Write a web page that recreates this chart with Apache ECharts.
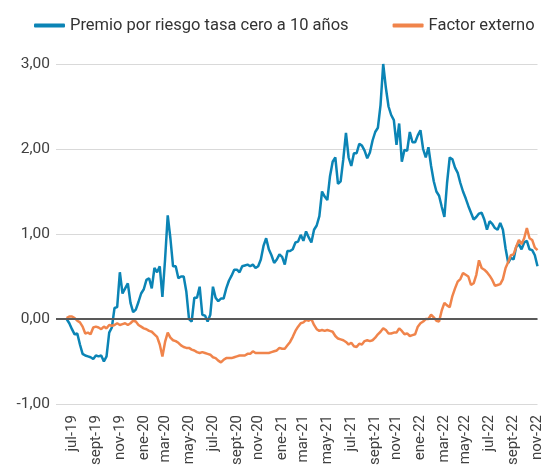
<!DOCTYPE html>
<html>
<head>
<meta charset="utf-8">
<title>Premio por riesgo</title>
<script src="https://cdn.jsdelivr.net/npm/echarts@6.0.0/dist/echarts.min.js"></script>
<style>
  html, body { margin: 0; padding: 0; background: #fff; }
  #chart { width: 545px; height: 475px; }
</style>
</head>
<body>
<div id="chart"></div>
<script>
// weekly observations (fridays), first one 2019-06-14
var firstWeek = "2019-06-14";
var padWeeks = 4; // empty weeks before the first observation

var premio = [
  0.00, -0.05, -0.12, -0.18, -0.17, -0.30, -0.41, -0.43, -0.44, -0.45,
  -0.47, -0.43, -0.44, -0.43, -0.50, -0.44, -0.16, -0.10, 0.13,
  0.14, 0.55, 0.30, 0.36, 0.42, 0.19, 0.08, 0.11, 0.20,
  0.30, 0.35, 0.46, 0.48, 0.36, 0.60, 0.55, 0.62, 0.26, 0.70,
  1.22, 0.95, 0.62, 0.62, 0.48, 0.50, 0.50, 0.32,
  0.00, -0.03, 0.25, 0.25, 0.38, 0.05, 0.04, -0.03, 0.05, 0.38, 0.25,
  0.21, 0.24, 0.24, 0.36, 0.45, 0.51, 0.58,
  0.58, 0.55, 0.62, 0.63, 0.64, 0.62, 0.64, 0.60, 0.62, 0.70, 0.86, 0.95,
  0.82, 0.75, 0.66, 0.70, 0.76, 0.73, 0.64,
  0.80, 0.80, 0.82, 0.90, 0.91, 0.99, 0.92, 1.03, 0.96, 0.90, 1.05, 1.10,
  1.21, 1.50, 1.44, 1.40, 1.68, 1.85,
  1.90, 1.59, 1.62, 1.88, 2.19, 1.90, 1.80, 1.95, 1.95, 2.06, 2.04, 1.98, 1.89,
  1.96, 2.10, 2.20, 2.25, 2.52,
  3.00, 2.72, 2.50, 2.40, 2.34, 2.05, 2.30, 1.85, 1.99, 1.98, 2.20, 2.08, 2.08, 2.16,
  2.22, 2.00, 1.90, 2.02, 1.80,
  1.62, 1.50, 1.45, 1.32, 1.20, 1.60, 1.90, 1.88, 1.78, 1.72, 1.60, 1.50, 1.42, 1.33,
  1.25, 1.17, 1.20, 1.24,
  1.25, 1.17, 1.05, 1.15, 1.12, 1.07, 1.05, 1.13, 1.05, 0.83, 0.66, 0.72, 0.70, 0.85, 0.88,
  0.82, 0.90, 0.92,
  0.82, 0.81, 0.75, 0.62
];

var factorExterno = [
  0.01, 0.03, 0.03, 0.01, -0.02, -0.04, -0.09, -0.17, -0.16, -0.18,
  -0.10, -0.09, -0.10, -0.12, -0.09, -0.11, -0.07, -0.08, -0.07,
  -0.05, -0.07, -0.06, -0.05, -0.07, -0.05, -0.02, -0.03, -0.07,
  -0.09, -0.11, -0.12, -0.14, -0.15, -0.18, -0.21, -0.30, -0.44, -0.27,
  -0.16, -0.22, -0.25, -0.26, -0.28, -0.31, -0.33, -0.34,
  -0.34, -0.36, -0.37, -0.39, -0.40, -0.39, -0.40, -0.41, -0.42, -0.45, -0.46,
  -0.49, -0.51, -0.48, -0.46, -0.46, -0.46, -0.45,
  -0.44, -0.43, -0.43, -0.43, -0.41, -0.41, -0.38, -0.40, -0.40, -0.40, -0.40, -0.40,
  -0.40, -0.39, -0.38, -0.37, -0.34, -0.35, -0.35,
  -0.31, -0.27, -0.21, -0.14, -0.09, -0.05, -0.04, -0.01, -0.02, 0.00, -0.07, -0.12,
  -0.14, -0.13, -0.14, -0.13, -0.14, -0.15,
  -0.20, -0.23, -0.24, -0.25, -0.27, -0.30, -0.28, -0.32, -0.33, -0.29, -0.30, -0.26, -0.25,
  -0.26, -0.25, -0.22, -0.18, -0.15,
  -0.11, -0.13, -0.17, -0.17, -0.16, -0.16, -0.11, -0.14, -0.18, -0.17, -0.20, -0.19, -0.18, -0.09,
  -0.05, -0.03, 0.00, 0.00, 0.05,
  0.02, -0.02, -0.03, 0.10, 0.19, 0.16, 0.14, 0.27, 0.36, 0.44, 0.47, 0.54, 0.52, 0.50,
  0.40, 0.42, 0.52, 0.69,
  0.60, 0.58, 0.55, 0.51, 0.46, 0.39, 0.40, 0.41, 0.47, 0.60, 0.67, 0.75, 0.76, 0.85, 0.93,
  0.88, 0.95, 1.07,
  0.95, 0.93, 0.84, 0.81
];

var monthNames = ["ene", "feb", "mar", "abr", "may", "jun", "jul", "ago", "sept", "oct", "nov", "dic"];
var yTicks = [-1, 0, 1, 2, 3];

// weekly categories, starting a few empty weeks before the data
var categories = [];
var start = new Date(firstWeek + "T00:00:00Z");
start.setUTCDate(start.getUTCDate() - 7 * padWeeks);
for (var i = 0; i < premio.length + padWeeks; i++) {
  var d = new Date(start.getTime());
  d.setUTCDate(d.getUTCDate() + 7 * i);
  categories.push(d.toISOString().slice(0, 10));
}

function pad(arr) {
  var out = [];
  for (var k = 0; k < padWeeks; k++) out.push(null);
  return out.concat(arr);
}

// the friday closest to the 1st of an odd month gets the label
function nearMonth(value) {
  var d = new Date(value + "T00:00:00Z");
  d.setUTCDate(d.getUTCDate() + 3);
  return d;
}

var chart = echarts.init(document.getElementById("chart"));

chart.setOption({
  animation: false,
  textStyle: { fontFamily: "Roboto" },
  legend: {
    top: 12,
    left: 29,
    icon: "roundRect",
    itemWidth: 31,
    itemHeight: 4,
    itemGap: 44,
    textStyle: { color: "#333", fontSize: 16.5, fontFamily: "Roboto" },
    data: ["Premio por riesgo tasa cero a 10 años", "Factor externo"]
  },
  grid: {
    left: 56,
    right: 0,
    top: 64,
    bottom: 71,
    containLabel: false
  },
  xAxis: {
    type: "category",
    boundaryGap: false,
    data: categories,
    axisLine: { show: false },
    axisTick: { show: false },
    splitLine: { show: false },
    axisLabel: {
      rotate: 90,
      margin: 11,
      color: "#404040",
      fontSize: 15,
      fontFamily: "Roboto",
      interval: function (index, value) {
        var d = nearMonth(value);
        return d.getUTCDate() <= 7 && d.getUTCMonth() % 2 === 0;
      },
      formatter: function (value) {
        var d = nearMonth(value);
        return monthNames[d.getUTCMonth()] + "-" + String(d.getUTCFullYear()).slice(2);
      }
    }
  },
  yAxis: {
    type: "value",
    min: yTicks[0],
    max: yTicks[yTicks.length - 1],
    interval: 1,
    axisLine: { show: false },
    axisTick: { show: false },
    axisLabel: {
      margin: 6,
      color: "#404040",
      fontSize: 15.5,
      fontFamily: "Roboto",
      formatter: function (v) {
        return v.toFixed(2).replace(".", ",");
      }
    },
    splitLine: { lineStyle: { color: "#d9d9d9", width: 1 } }
  },
  series: [
    {
      name: "Premio por riesgo tasa cero a 10 años",
      type: "line",
      data: pad(premio),
      showSymbol: false,
      symbol: "none",
      itemStyle: { color: "#0b84b5" },
      lineStyle: { color: "#0b84b5", width: 2.5 },
      markLine: {
        silent: true,
        symbol: "none",
        label: { show: false },
        lineStyle: { color: "#595959", width: 2, type: "solid" },
        data: [{ yAxis: 0 }]
      }
    },
    {
      name: "Factor externo",
      type: "line",
      data: pad(factorExterno),
      showSymbol: false,
      symbol: "none",
      itemStyle: { color: "#f0844b" },
      lineStyle: { color: "#f0844b", width: 2.5 }
    }
  ]
});
</script>
</body>
</html>
